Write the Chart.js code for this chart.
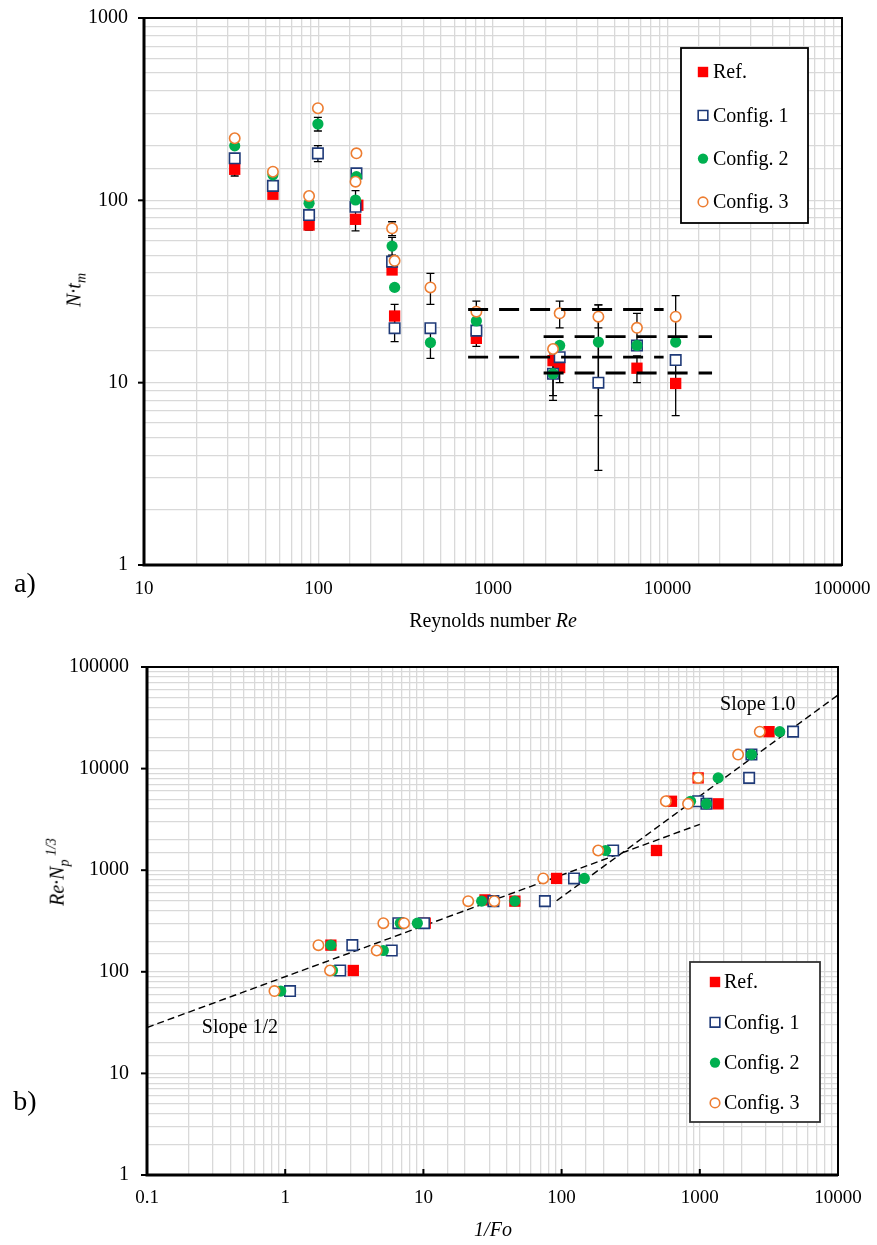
<!DOCTYPE html>
<html>
<head>
<meta charset="utf-8">
<script src="https://cdn.jsdelivr.net/npm/chart.js@4.4.0/dist/chart.umd.min.js"></script>
<style>
  body { margin: 0; background: #fff; }
  #page { position: relative; width: 877px; height: 1245px; font-family: 'Liberation Serif', 'Times New Roman', serif; color: #000; }
  .box { position: absolute; left: 0; width: 877px; }
  #boxA { top: 0; height: 640px; }
  #boxB { top: 640px; height: 605px; }
  .lbl { position: absolute; white-space: nowrap; font-size: 20px; line-height: 1; transform: translate(-50%, -50%); }
  .rot { transform: translate(-50%, -50%) rotate(-90deg); }
  .panel { font-size: 28px; }
  sub, sup { font-size: 70%; }
</style>
</head>
<body>
<div id="page">
  <div class="box" id="boxA"><canvas id="chartA" width="877" height="640"></canvas></div>
  <div class="box" id="boxB"><canvas id="chartB" width="877" height="605"></canvas></div>

  <div class="lbl panel" style="left:25px; top:583px;">a)</div>
  <div class="lbl rot" style="left:76px; top:290px;"><i>N·t<sub>m</sub></i></div>
  <div class="lbl" style="left:493px; top:620px;">Reynolds number <i>Re</i></div>

  <div class="lbl panel" style="left:25px; top:1101px;">b)</div>
  <div class="lbl rot" style="left:58px; top:872px;"><i>Re·N<sub>p</sub><sup>&nbsp;1/3</sup></i></div>
  <div class="lbl" style="left:493px; top:1229px;"><i>1/Fo</i></div>
</div>

<script>
Chart.defaults.font.family = "'Liberation Serif', 'Times New Roman', serif";
Chart.defaults.color = '#000';

const seriesNames = ['Ref.', 'Config. 1', 'Config. 2', 'Config. 3'];

// --- a) N·tm against Re ---
const reTicks = ['10', '100', '1000', '10000', '100000'];
const ntTicks = ['1', '10', '100', '1000'];

const reRef = [33.1, 54.8, 88.3, 168, 163, 264, 273, 803, 2208, 2410, 6683, 11140];
const ntRef = [148, 108, 73.2, 94, 78.7, 41.5, 23.2, 17.5, 13.2, 12.1, 12, 9.9];
const ntRefLo = [136, null, 68.7, null, 68, null, 19.6, 15.8, null, 10, 10, 6.6];
const ntRefHi = [160, null, 78, null, 90, null, 26.9, 19.5, null, 14.2, 14, 13.3];

const reCfg = [33.1, 54.8, 88.3, 99.2, 165, 163, 264, 273, 438, 803, 2208, 2410, 4018, 6683, 11140];

const ntC1 = [170, 120, 83, 181, 140.6, 92.2, 46.1, 19.9, 19.9, 19.3, 11.2, 13.8, 10, 16, 13.3];
const ntC1Lo = [null, null, null, 163, null, null, null, 16.8, null, null, 8.5, null, 3.3, null, null];
const ntC1Hi = [null, null, null, 199.5, null, null, null, 23, null, null, 14, null, 16.7, null, null];

const ntC2 = [199, 138, 96.3, 262, 134.8, 100.4, 56.1, 33.3, 16.6, 21.8, 11.2, 16, 16.7, 16, 16.7];
const ntC2Lo = [null, null, null, 240, null, 88, 50, null, 13.6, null, 8.0, null, 6.6, null, null];
const ntC2Hi = [null, null, null, 285, null, 113, 62.7, null, 19.6, null, 14.4, null, 26.7, null, null];

const ntC3 = [219, 143.5, 105.6, 320, 181, 126.5, 70.2, 46.6, 33.3, 24.5, 15.3, 24, 23, 20, 23];
const ntC3Lo = [null, null, null, null, null, null, 64, null, 26.9, 21, null, 20, 20, 16, 16.7];
const ntC3Hi = [null, null, null, null, null, null, 76.3, null, 39.8, 28, null, 28, 26.7, 24, 30];

// dashed bands (mean ± sd levels)
const bandReA = [720, 9500];
const bandA = [25.2, 13.8];
const bandReB = [1950, 18000];
const bandB = [17.9, 11.3];

// --- b) Re·Np^1/3 against 1/Fo ---
const foTicks = ['0.1', '1', '10', '100', '1000', '10000'];
const reNpTicks = ['1', '10', '100', '1000', '10000', '100000'];

const foRef = [3.11, 2.14, 10.3, 27.9, 45.9, 92, 486, 624, 1358, 973, 3170];
const reNpRef = [103, 183, 301, 510, 496, 830, 1563, 4770, 4500, 8100, 23100];

const reNpCfg = [64.6, 103, 162, 183, 301, 301, 496, 496, 830, 1563, 4770, 4500, 8100, 13740, 23100];
const foC1 = [1.084, 2.5, 5.9, 3.06, 6.59, 10.1, 32.1, 75.7, 123, 236, 973, 1117, 2275, 2364, 4730];
const foC2 = [0.929, 2.2, 5.13, 2.14, 6.8, 9.04, 26.4, 45.9, 146, 208, 857, 1117, 1358, 2364, 3787];
const foC3 = [0.836, 2.11, 4.59, 1.74, 5.13, 7.25, 21.1, 32.6, 73.6, 184, 568, 822, 973, 1893, 2716];

const slopeHalfFo = [0.1, 1000];
const slopeHalfRe = [28.3, 2830];
const slopeOneFo = [92, 10000];
const slopeOneRe = [500, 53000];

// marker styles
const styles = [
  { pointStyle: 'rect', pointRadius: 8, backgroundColor: '#ff0000', borderColor: '#ff0000', borderWidth: 0 },
  { pointStyle: 'rect', pointRadius: 7.4, backgroundColor: '#ffffff', borderColor: '#1f3a78', borderWidth: 1.6 },
  { pointStyle: 'circle', pointRadius: 5.6, backgroundColor: '#00b050', borderColor: '#00b050', borderWidth: 0 },
  { pointStyle: 'circle', pointRadius: 5.2, backgroundColor: '#ffffff', borderColor: '#ed7d31', borderWidth: 1.6 }
];

function pts(xs, ys) {
  return xs.map((x, i) => ({ x: x, y: ys[i] }));
}

function decadeTicks(labels, firstExp) {
  return function (value) {
    const e = Math.log10(value);
    const r = Math.round(e);
    if (Math.abs(e - r) > 1e-6) return '';
    const s = labels[r - firstExp];
    return s === undefined ? '' : s;
  };
}

function markerSet(i, xs, ys, lo, hi) {
  const s = styles[i];
  return {
    label: seriesNames[i],
    data: pts(xs, ys),
    errLo: lo, errHi: hi,
    showLine: false,
    pointStyle: s.pointStyle,
    pointRadius: s.pointRadius,
    pointHoverRadius: s.pointRadius,
    pointBackgroundColor: s.backgroundColor,
    pointBorderColor: s.borderColor,
    pointBorderWidth: s.borderWidth,
    order: 4 - i
  };
}

function dashSet(xs, ys, width, dash, order) {
  return {
    data: pts(xs, ys),
    showLine: true,
    borderColor: '#000',
    borderWidth: width,
    borderDash: dash,
    pointRadius: 0,
    pointHoverRadius: 0,
    order: order
  };
}

function drawMarker(ctx, s, x, y) {
  ctx.save();
  ctx.fillStyle = s.backgroundColor;
  ctx.strokeStyle = s.borderColor;
  ctx.lineWidth = s.borderWidth;
  ctx.beginPath();
  if (s.pointStyle === 'rect') {
    const h = s.pointRadius * Math.SQRT1_2;
    ctx.rect(x - h, y - h, 2 * h, 2 * h);
  } else {
    ctx.arc(x, y, s.pointRadius, 0, Math.PI * 2);
  }
  ctx.fill();
  if (s.borderWidth > 0) ctx.stroke();
  ctx.restore();
}

const errorBars = {
  id: 'errorBars',
  beforeDatasetsDraw(chart) {
    const ctx = chart.ctx;
    const xs = chart.scales.x, ys = chart.scales.y;
    ctx.save();
    ctx.strokeStyle = '#000';
    ctx.lineWidth = 1.3;
    chart.data.datasets.forEach(ds => {
      if (!ds.errLo) return;
      ds.data.forEach((p, i) => {
        const lo = ds.errLo[i], hi = ds.errHi[i];
        if (lo == null || hi == null) return;
        const px = xs.getPixelForValue(p.x);
        const y1 = ys.getPixelForValue(lo), y2 = ys.getPixelForValue(hi);
        ctx.beginPath();
        ctx.moveTo(px, y1); ctx.lineTo(px, y2);
        ctx.moveTo(px - 4, y1); ctx.lineTo(px + 4, y1);
        ctx.moveTo(px - 4, y2); ctx.lineTo(px + 4, y2);
        ctx.stroke();
      });
    });
    ctx.restore();
  }
};

const frame = {
  id: 'frame',
  afterDraw(chart, args, opts) {
    const ctx = chart.ctx;
    const a = chart.chartArea;
    ctx.save();
    ctx.strokeStyle = '#000';
    ctx.lineWidth = 2;
    ctx.strokeRect(a.left, a.top, a.right - a.left, a.bottom - a.top);
    ctx.lineWidth = 3;
    ctx.beginPath();
    ctx.moveTo(a.left, a.top); ctx.lineTo(a.left, a.bottom); ctx.lineTo(a.right, a.bottom);
    ctx.stroke();
    // major tick marks
    ctx.lineWidth = 2;
    const ys = chart.scales.y, xs = chart.scales.x;
    ys.ticks.forEach(t => {
      const e = Math.log10(t.value);
      if (Math.abs(e - Math.round(e)) > 1e-6) return;
      const py = ys.getPixelForValue(t.value);
      ctx.beginPath(); ctx.moveTo(a.left - 6, py); ctx.lineTo(a.left, py); ctx.stroke();
    });
    if (opts.xTicks) {
      xs.ticks.forEach(t => {
        const e = Math.log10(t.value);
        if (Math.abs(e - Math.round(e)) > 1e-6) return;
        const px = xs.getPixelForValue(t.value);
        ctx.beginPath(); ctx.moveTo(px, a.bottom); ctx.lineTo(px, a.bottom - 6); ctx.stroke();
      });
    }
    ctx.restore();
  }
};

const boxLegend = {
  id: 'boxLegend',
  afterDraw(chart, args, o) {
    const ctx = chart.ctx;
    ctx.save();
    ctx.fillStyle = '#fff';
    ctx.fillRect(o.left, o.top, o.width, o.height);
    ctx.strokeStyle = o.border;
    ctx.lineWidth = 1.8;
    ctx.strokeRect(o.left, o.top, o.width, o.height);
    seriesNames.forEach((name, i) => {
      const y = o.firstY + i * o.step;
      drawMarker(ctx, Object.assign({}, styles[i], { pointRadius: styles[i].pointRadius * 0.92 }), o.markerX, y);
      ctx.fillStyle = '#000';
      ctx.font = "20px 'Liberation Serif', 'Times New Roman', serif";
      ctx.textAlign = 'left';
      ctx.textBaseline = 'middle';
      ctx.fillText(name, o.textX, y + 1);
    });
    ctx.restore();
  }
};

const notes = {
  id: 'notes',
  afterDatasetsDraw(chart, args, o) {
    if (!o.items) return;
    const ctx = chart.ctx;
    ctx.save();
    ctx.fillStyle = '#000';
    ctx.font = "20px 'Liberation Serif', 'Times New Roman', serif";
    ctx.textAlign = 'center';
    ctx.textBaseline = 'middle';
    o.items.forEach(it => {
      ctx.fillText(it.text, chart.scales.x.getPixelForValue(it.x), chart.scales.y.getPixelForValue(it.y));
    });
    ctx.restore();
  }
};

function logAxis(min, max, labels, firstExp, isX, size, pad, fontSize) {
  return {
    type: 'logarithmic',
    min: min,
    max: max,
    border: { display: false },
    grid: { color: '#d9d9d9', lineWidth: 1.3, drawTicks: false },
    ticks: {
      autoSkip: false,
      maxRotation: 0,
      padding: pad,
      color: '#000',
      font: { size: fontSize },
      callback: decadeTicks(labels, firstExp)
    },
    afterFit: function (s) {
      // fixed axis size, no extra label overflow padding
      if (isX) s.height = size; else s.width = size;
      s.paddingTop = 0; s.paddingBottom = 0; s.paddingLeft = 0; s.paddingRight = 0;
    }
  };
}

const chartA = new Chart(document.getElementById('chartA'), {
  type: 'scatter',
  data: {
    datasets: [
      dashSet(bandReA, [bandA[0], bandA[0]], 2.8, [20, 11], 0),
      dashSet(bandReA, [bandA[1], bandA[1]], 2.8, [20, 11], 0),
      dashSet(bandReB, [bandB[0], bandB[0]], 2.8, [20, 11], 0),
      dashSet(bandReB, [bandB[1], bandB[1]], 2.8, [20, 11], 0),
      markerSet(0, reRef, ntRef, ntRefLo, ntRefHi),
      markerSet(1, reCfg, ntC1, ntC1Lo, ntC1Hi),
      markerSet(2, reCfg, ntC2, ntC2Lo, ntC2Hi),
      markerSet(3, reCfg, ntC3, ntC3Lo, ntC3Hi)
    ]
  },
  options: {
    responsive: false,
    animation: false,
    layout: { padding: { left: 0, top: 18, right: 35, bottom: 35 } },
    scales: {
      x: logAxis(10, 100000, reTicks, 1, true, 40, 13, 19),
      y: logAxis(1, 1000, ntTicks, 0, false, 144, 16, 20)
    },
    plugins: {
      legend: { display: false },
      tooltip: { enabled: false },
      frame: { xTicks: false },
      boxLegend: { left: 681, top: 48, width: 127, height: 175, firstY: 72, step: 43.3, markerX: 703, textX: 713, border: '#000' }
    }
  },
  plugins: [errorBars, frame, boxLegend]
});

const chartB = new Chart(document.getElementById('chartB'), {
  type: 'scatter',
  data: {
    datasets: [
      dashSet(slopeHalfFo, slopeHalfRe, 1.4, [7, 4], 10),
      dashSet(slopeOneFo, slopeOneRe, 1.4, [7, 4], 10),
      markerSet(0, foRef, reNpRef),
      markerSet(1, foC1, reNpCfg),
      markerSet(2, foC2, reNpCfg),
      markerSet(3, foC3, reNpCfg)
    ]
  },
  options: {
    responsive: false,
    animation: false,
    layout: { padding: { left: 0, top: 27, right: 39, bottom: 30 } },
    scales: {
      x: logAxis(0.1, 10000, foTicks, -1, true, 40, 12, 19),
      y: logAxis(1, 100000, reNpTicks, 0, false, 147, 18, 20)
    },
    plugins: {
      legend: { display: false },
      tooltip: { enabled: false },
      frame: { xTicks: true },
      boxLegend: { left: 690, top: 322, width: 130, height: 160, firstY: 342, step: 40.3, markerX: 715, textX: 724, border: '#333' },
      notes: { items: [ { text: 'Slope 1/2', x: 0.47, y: 28.3 }, { text: 'Slope 1.0', x: 2630, y: 42600 } ] }
    }
  },
  plugins: [frame, boxLegend, notes]
});
</script>
</body>
</html>
